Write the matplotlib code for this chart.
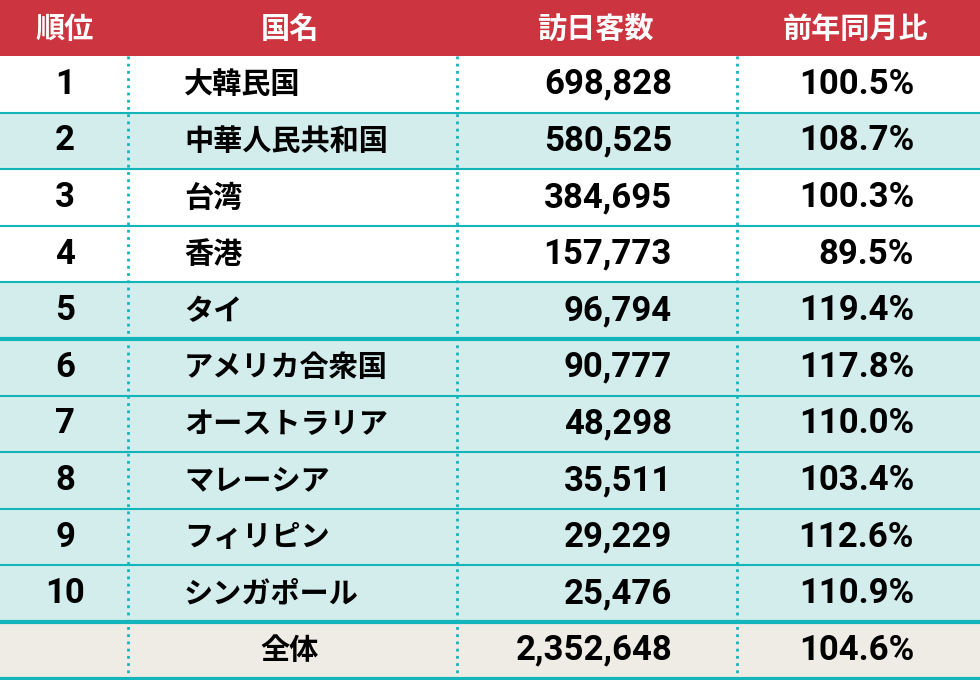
import matplotlib
matplotlib.use("Agg")
import matplotlib.pyplot as plt
from matplotlib import font_manager

headers = ["順位", "国名", "訪日客数", "前年同月比"]
ranks = ["1", "2", "3", "4", "5", "6", "7", "8", "9", "10"]
countries = ["大韓民国", "中華人民共和国", "台湾", "香港", "タイ", "アメリカ合衆国",
             "オーストラリア", "マレーシア", "フィリピン", "シンガポール"]
visitors = [698828, 580525, 384695, 157773, 96794, 90777, 48298, 35511, 29229, 25476]
yoy = [100.5, 108.7, 100.3, 89.5, 119.4, 117.8, 110.0, 103.4, 112.6, 110.9]
total_label = "全体"
total_visitors = 2352648
total_yoy = 104.6

names = {f.name for f in font_manager.fontManager.ttflist}
numfont = "Liberation Sans Narrow" if "Liberation Sans Narrow" in names else "Roboto"
jp = "Noto Sans CJK JP"

W, H = 980, 680
fig = plt.figure(figsize=(W / 100, H / 100), dpi=100)
ax = fig.add_axes([0, 0, 1, 1])
ax.set_xlim(0, W)
ax.set_ylim(H, 0)
ax.axis("off")

red = "#CC3540"
teal = "#D3ECEC"
line = "#12B5BA"
beige = "#EFECE6"

head_h = 56
row_h = 56.6
ax.add_patch(plt.Rectangle((0, 0), W, head_h, color=red, lw=0))
hx = [65, 290, 595, 855]
for x, t in zip(hx, headers):
    ax.text(x, head_h / 2 + 1, t, color="white", fontsize=21, fontweight="bold",
            fontfamily=jp, ha="center", va="center")

white_rows = {0, 2, 3}
n = len(ranks)
for i in range(n + 1):
    y0 = head_h + i * row_h
    if i == n:
        fc = beige
    else:
        fc = "white" if i in white_rows else teal
    ax.add_patch(plt.Rectangle((0, y0), W, row_h, color=fc, lw=0))
    yc = y0 + row_h / 2
    if i < n:
        ax.text(65, yc, ranks[i], fontsize=25, fontweight="bold", fontfamily=numfont,
                ha="center", va="center")
        ax.text(184, yc, countries[i], fontsize=21, fontweight="bold", fontfamily=jp,
                ha="left", va="center")
        v, p = visitors[i], yoy[i]
    else:
        ax.text(290, yc, total_label, fontsize=21, fontweight="bold", fontfamily=jp,
                ha="center", va="center")
        v, p = total_visitors, total_yoy
    ax.text(672, yc, f"{v:,}", fontsize=25, fontweight="bold", fontfamily=numfont,
            ha="right", va="center")
    ax.text(914, yc, f"{p:.1f}%", fontsize=25, fontweight="bold", fontfamily=numfont,
            ha="right", va="center")
    # bottom line
    yb = y0 + row_h
    thick = i in (4, n - 1, n)
    ax.plot([0, W], [yb, yb], color=line, lw=3 if thick else 1.5, solid_capstyle="butt")

for x in (128, 457, 737):
    ax.plot([x, x], [head_h, H], color=line, lw=2, linestyle=(0, (1, 1.6)))

fig.savefig("out.png", dpi=100)
